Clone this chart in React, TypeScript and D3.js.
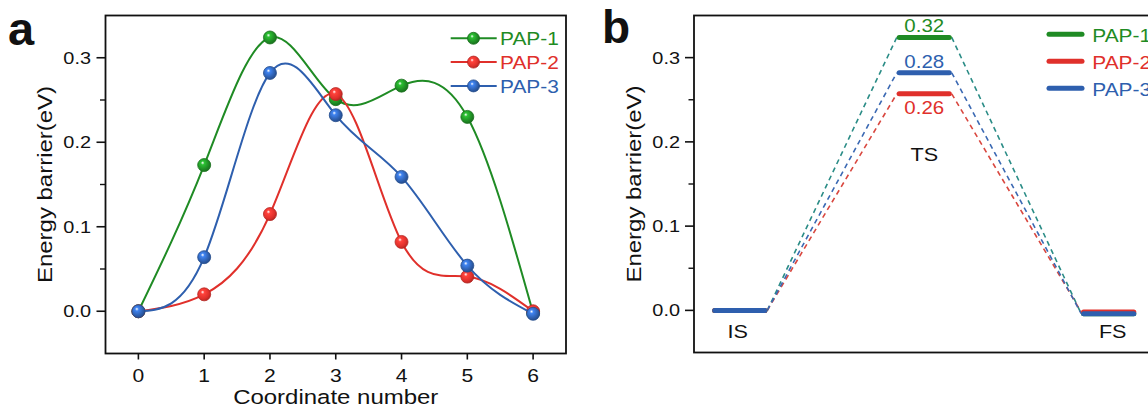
import React, { useEffect } from "react";
import * as d3 from "d3";

// ---------- data ----------
const coords = [0, 1, 2, 3, 4, 5, 6];
const seriesNames = ["PAP-1", "PAP-2", "PAP-3"];
const pap1 = [0, 0.173, 0.324, 0.251, 0.267, 0.23, -0.002];
const pap2 = [0, 0.02, 0.115, 0.257, 0.082, 0.041, 0.0];
const pap3 = [0, 0.064, 0.282, 0.232, 0.159, 0.054, -0.003];

const states = ["IS", "TS", "FS"];
const lvl1 = [0, 0.324, -0.004];
const lvl2 = [0, 0.257, -0.002];
const lvl3 = [0, 0.282, -0.004];

const xTicksA = [0, 1, 2, 3, 4, 5, 6];
const yTicks = [0, 0.1, 0.2, 0.3];
const yMinor = [0.05, 0.15, 0.25];
const xTitleA = "Coordinate number";
const yTitle = "Energy barrier(eV)";

// ---------- style ----------
const W = 1148;
const H = 408;
const FONT = "'Liberation Sans', Arial, Helvetica, sans-serif";
const STRETCH = 1.17;
const colors = ["#1f8b24", "#e0302b", "#2e5fae"];
const dashColors = ["#2a8c86", "#d9473f", "#3b69b3"];
const INK = "#111";

const xA = d3.scaleLinear().domain([-0.5, 6.5]).range([105.5, 566]);
const yA = d3.scaleLinear().domain([-0.05, 0.35]).range([353.5, 15.5]);
const xB = d3.scaleLinear().domain([0, 2]).range([739.8, 1108.7]);
const yB = d3.scaleLinear().domain([-0.05, 0.35]).range([352.5, 15.5]);
const LEVEL_HALF = 0.136; // in state units
const LEVEL_VIS = 0.149;

type TProps = {
  x: number;
  y: number;
  size: number;
  anchor?: string;
  weight?: string;
  fill?: string;
  rotate?: number;
  sx?: number;
  children: any;
};
function T({ x, y, size, anchor = "middle", weight = "normal", fill = INK, rotate = 0, sx = STRETCH, children }: TProps) {
  return (
    <g transform={`translate(${x},${y}) rotate(${rotate}) scale(${sx},1)`}>
      <text x={0} y={0} textAnchor={anchor} fontSize={size} fontWeight={weight} fill={fill} fontFamily={FONT}>
        {children}
      </text>
    </g>
  );
}

function Ball({ cx, cy, i, r = 6.5 }: { cx: number; cy: number; i: number; r?: number }) {
  return <circle cx={cx} cy={cy} r={r} fill={`url(#ball${i})`} stroke={d3.color(colors[i])!.darker(0.6).formatHex()} strokeWidth={0.8} />;
}

export default function App() {
  useEffect(() => {
    document.body.style.margin = "0";
  }, []);

  const seriesA = [pap1, pap2, pap3];
  const levels = [lvl1, lvl2, lvl3];
  const lineGen = d3
    .line<number>()
    .x((_, j) => xA(coords[j]))
    .y((v) => yA(v))
    .curve(d3.curveNatural);

  const tickFs = 17;
  const xTickFs = 18;
  const titleFs = 20.5;

  const [ax0, ax1] = xA.range();
  const [ay1, ay0] = yA.range();
  const bx0 = 694;
  const bx1 = 1175;
  const [by1, by0] = yB.range();

  const fmt = d3.format(".1f");
  const fmt2 = d3.format(".2f");

  return (
    <svg width={W} height={H} style={{ position: "absolute", left: 0, top: 0, background: "#fff" }}>
      <defs>
        {colors.map((c, i) => {
          const base = d3.color(c)!;
          return (
            <radialGradient key={i} id={`ball${i}`} cx="0.4" cy="0.4" r="0.65" fx="0.38" fy="0.32">
              <stop offset="0%" stopColor="#ffffff" />
              <stop offset="22%" stopColor={base.brighter(0.9).formatHex()} />
              <stop offset="70%" stopColor={c} />
              <stop offset="100%" stopColor={base.darker(0.7).formatHex()} />
            </radialGradient>
          );
        })}
      </defs>
      <rect x={0} y={0} width={W} height={H} fill="#fff" />

      {/* ================= Panel a ================= */}
      <T x={8} y={45} size={47} weight="bold" anchor="start" sx={1}>a</T>
      {/* axes frame */}
      <rect x={ax0} y={ay0} width={ax1 - ax0} height={ay1 - ay0} fill="none" stroke={INK} strokeWidth={1.8} />
      {yTicks.map((t) => (
        <g key={`ya${t}`}>
          <line x1={ax0 - 9} x2={ax0} y1={yA(t)} y2={yA(t)} stroke={INK} strokeWidth={1.6} />
          <T x={ax0 - 14.5} y={yA(t) + tickFs * 0.358} size={tickFs} anchor="end">{fmt(t)}</T>
        </g>
      ))}
      {yMinor.map((t) => (
        <line key={`yma${t}`} x1={ax0 - 5.5} x2={ax0} y1={yA(t)} y2={yA(t)} stroke={INK} strokeWidth={1.4} />
      ))}
      {xTicksA.map((t) => (
        <g key={`xa${t}`}>
          <line x1={xA(t)} x2={xA(t)} y1={ay1} y2={ay1 + 6} stroke={INK} strokeWidth={1.6} />
          <T x={xA(t)} y={381.7} size={xTickFs}>{String(t)}</T>
        </g>
      ))}
      <T x={(ax0 + ax1) / 2} y={403.5} size={titleFs}>{xTitleA}</T>
      <T x={52.3} y={(ay0 + ay1) / 2} size={titleFs} rotate={-90}>{yTitle}</T>

      {/* curves + markers */}
      {seriesA.map((s, i) => (
        <g key={`sa${i}`}>
          <path d={lineGen(s) || ""} fill="none" stroke={colors[i]} strokeWidth={2} />
          {s.map((v, j) => (
            <Ball key={j} cx={xA(coords[j])} cy={yA(v)} i={i} />
          ))}
        </g>
      ))}

      {/* legend a */}
      {seriesNames.map((n, i) => {
        const ly = 38.3 + i * 23.8;
        return (
          <g key={`la${i}`}>
            <line x1={450.7} x2={496.7} y1={ly} y2={ly} stroke={colors[i]} strokeWidth={2} />
            <Ball cx={473.5} cy={ly} i={i} r={6} />
            <T x={500} y={ly + 6.9} size={19} anchor="start" fill={colors[i]} sx={1.1}>{n}</T>
          </g>
        );
      })}

      {/* ================= Panel b ================= */}
      <T x={602} y={43} size={46} weight="bold" anchor="start" sx={1}>b</T>
      <rect x={bx0} y={by0} width={bx1 - bx0} height={by1 - by0} fill="none" stroke={INK} strokeWidth={1.8} />
      {yTicks.map((t) => (
        <g key={`yb${t}`}>
          <line x1={bx0 - 9} x2={bx0} y1={yB(t)} y2={yB(t)} stroke={INK} strokeWidth={1.6} />
          <T x={bx0 - 14} y={yB(t) + tickFs * 0.358} size={tickFs} anchor="end">{fmt(t)}</T>
        </g>
      ))}
      {yMinor.map((t) => (
        <line key={`ymb${t}`} x1={bx0 - 5.5} x2={bx0} y1={yB(t)} y2={yB(t)} stroke={INK} strokeWidth={1.4} />
      ))}
      <T x={640.8} y={(by0 + by1) / 2} size={titleFs} rotate={-90}>{yTitle}</T>

      {/* dashed connectors */}
      {levels.map((lv, i) => (
        <g key={`dc${i}`}>
          {lv.slice(0, -1).map((v, k) => (
            <line
              key={k}
              x1={xB(k + LEVEL_VIS)}
              y1={yB(v)}
              x2={xB(k + 1 - LEVEL_VIS)}
              y2={yB(lv[k + 1])}
              stroke={dashColors[i]}
              strokeWidth={1.6}
              strokeDasharray="5 4"
            />
          ))}
        </g>
      ))}

      {/* energy levels */}
      {levels.map((lv, i) => (
        <g key={`lv${i}`}>
          {lv.map((v, k) => (
            <line
              key={k}
              x1={xB(k - LEVEL_HALF)}
              x2={xB(k + LEVEL_HALF)}
              y1={yB(v)}
              y2={yB(v)}
              stroke={colors[i]}
              strokeWidth={5}
              strokeLinecap="round"
            />
          ))}
        </g>
      ))}

      {/* TS value labels */}
      {levels.map((lv, i) => {
        const below = i === 1;
        return (
          <T key={`tv${i}`} x={xB(1)} y={yB(lv[1]) + (below ? 19.7 : -5.2)} size={17.5} fill={colors[i]}>
            {fmt2(lv[1])}
          </T>
        );
      })}

      {/* state labels */}
      <T x={xB(0) - 2} y={338.3} size={18.5}>{states[0]}</T>
      <T x={xB(1)} y={161.3} size={18.5}>{states[1]}</T>
      <T x={xB(2) + 4} y={338.3} size={18.5}>{states[2]}</T>

      {/* legend b */}
      {seriesNames.map((n, i) => {
        const ly = 34.3 + i * 27;
        return (
          <g key={`lb${i}`}>
            <line x1={1049} x2={1082} y1={ly} y2={ly} stroke={colors[i]} strokeWidth={5} strokeLinecap="round" />
            <T x={1092.3} y={ly + 7.2} size={19} anchor="start" fill={colors[i]} sx={1.1}>{n}</T>
          </g>
        );
      })}
    </svg>
  );
}
